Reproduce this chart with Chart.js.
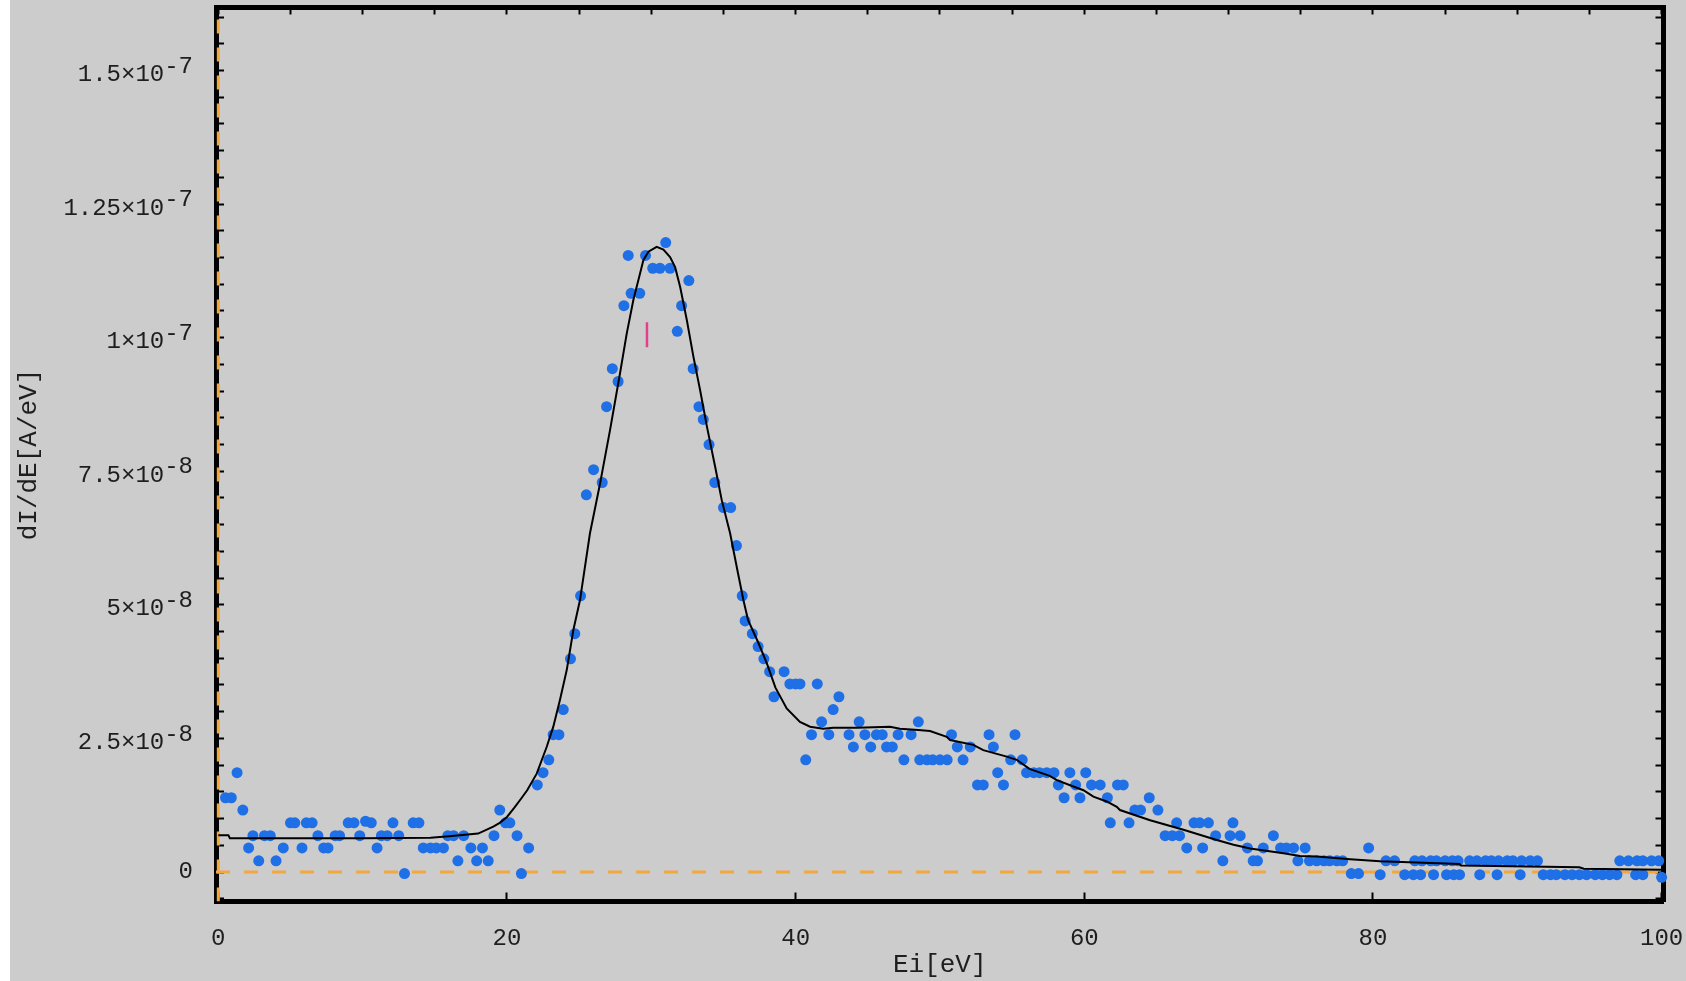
<!DOCTYPE html>
<html>
<head>
<meta charset="utf-8">
<title>dI/dE vs Ei</title>
<script src="https://cdn.jsdelivr.net/npm/chart.js@4.4.1/dist/chart.umd.min.js"></script>
<style>
    html, body { margin: 0; padding: 0; background: #cccccc; }
    #wrap { width: 1686px; height: 981px; }
</style>
</head>
<body>
<div id="wrap"><canvas id="spectrumChart" width="1686" height="981"></canvas></div>
<script>
// measured points: [Ei (eV), dI/dE (1e-8 A/eV)]
const measured = [
    [0.5,1.39],[0.9,1.39],[1.3,1.86],[1.7,1.16],[2.1,0.45],[2.4,0.68],[2.8,0.21],[3.2,0.68],[3.6,0.68],[4.0,0.21],
    [4.5,0.45],[5.0,0.92],[5.3,0.92],[5.8,0.45],[6.1,0.92],[6.5,0.92],[6.9,0.68],[7.3,0.45],[7.6,0.45],[8.1,0.68],
    [8.4,0.68],[9.0,0.92],[9.4,0.92],[9.8,0.68],[10.2,0.95],[10.6,0.92],[11.0,0.45],[11.3,0.68],[11.7,0.68],[12.1,0.92],
    [12.5,0.68],[12.9,-0.03],[13.5,0.92],[13.9,0.92],[14.2,0.45],[14.7,0.45],[15.1,0.45],[15.6,0.45],[15.9,0.68],[16.3,0.68],
    [16.6,0.21],[17.0,0.68],[17.5,0.45],[17.9,0.21],[18.3,0.45],[18.7,0.21],[19.1,0.68],[19.5,1.16],[19.9,0.92],[20.2,0.92],
    [20.7,0.68],[21.0,-0.03],[21.5,0.45],
    [22.1,1.63],[22.5,1.86],[22.9,2.10],[23.2,2.57],[23.6,2.57],[23.9,3.04],[24.4,3.99],[24.7,4.46],[25.1,5.17],[25.5,7.06],
    [26.0,7.53],[26.6,7.29],[26.9,8.71],[27.3,9.42],[27.7,9.18],[28.1,10.60],[28.4,11.54],[28.6,10.83],[29.2,10.83],[29.6,11.54],
    [30.1,11.30],[30.6,11.30],[31.0,11.78],[31.3,11.30],[31.8,10.12],[32.1,10.60],[32.6,11.07],[32.9,9.42],[33.3,8.71],[33.6,8.47],
    [34.0,8.00],[34.4,7.29],[35.0,6.82],[35.5,6.82],[35.9,6.11],[36.3,5.17],
    [36.5,4.70],[37.0,4.46],[37.4,4.22],[37.8,3.99],[38.2,3.75],[38.5,3.28],[39.2,3.75],[39.6,3.52],[40.0,3.52],[40.3,3.52],
    [40.7,2.10],[41.1,2.57],[41.5,3.52],[41.8,2.81],[42.3,2.57],[42.6,3.04],[43.0,3.28],[43.7,2.57],[44.0,2.34],[44.4,2.81],
    [44.8,2.57],[45.2,2.34],[45.6,2.57],[46.0,2.57],[46.3,2.34],[46.7,2.34],[47.1,2.57],[47.5,2.10],[48.0,2.57],[48.5,2.81],
    [48.6,2.10],[49.1,2.10],[49.5,2.10],[50.0,2.10],[50.5,2.10],[50.8,2.57],[51.2,2.34],[51.6,2.10],[52.1,2.34],[52.6,1.63],
    [53.0,1.63],[53.4,2.57],[53.7,2.34],[54.0,1.86],[54.4,1.63],[54.9,2.10],[55.2,2.57],[55.7,2.10],[56.0,1.86],[56.5,1.86],
    [56.9,1.86],[57.4,1.86],[57.9,1.86],[58.2,1.63],[58.6,1.39],[59.0,1.86],[59.4,1.63],[59.7,1.39],[60.1,1.86],[60.5,1.63],
    [61.1,1.63],[61.6,1.39],[61.8,0.92],[62.3,1.63],[62.7,1.63],[63.1,0.92],
    [63.5,1.16],[63.9,1.16],[64.5,1.39],[65.1,1.16],[65.6,0.68],[66.1,0.68],[66.4,0.92],[66.6,0.68],[67.1,0.45],[67.6,0.92],
    [68.0,0.92],[68.2,0.45],[68.6,0.92],[69.1,0.68],[69.6,0.21],[70.1,0.68],[70.3,0.92],[70.8,0.68],[71.3,0.45],[71.7,0.21],
    [72.0,0.21],[72.4,0.45],[73.1,0.68],[73.6,0.45],[74.0,0.45],[74.5,0.45],[74.8,0.21],[75.3,0.45],[75.6,0.21],[76.1,0.21],
    [76.6,0.21],[77.0,0.21],[77.5,0.21],[77.9,0.21],[78.5,-0.03],[79.0,-0.03],[79.7,0.45],
    [80.5,-0.05],[80.9,0.21],[81.5,0.21],[82.2,-0.05],[82.8,-0.05],[82.9,0.21],[83.3,-0.05],[83.4,0.21],[84.0,0.21],[84.2,-0.05],
    [84.4,0.21],[85.0,0.21],[85.1,-0.05],[85.5,0.21],[85.6,-0.05],[85.9,0.21],[86.0,-0.05],[86.7,0.21],[87.2,0.21],[87.4,-0.05],
    [87.8,0.21],[88.2,0.21],[88.6,-0.05],[88.7,0.21],[89.3,0.21],[89.7,0.21],[90.2,-0.05],[90.3,0.21],[90.9,0.21],[91.4,0.21],
    [91.8,-0.05],[92.3,-0.05],[92.7,-0.05],[93.3,-0.05],[93.8,-0.05],[94.3,-0.05],[94.8,-0.05],[95.4,-0.05],[95.9,-0.05],[96.4,-0.05],
    [96.9,-0.05],[97.1,0.21],[97.7,0.21],[98.2,-0.05],[98.3,0.21],[98.7,-0.05],[98.7,0.21],[99.3,0.21],[99.8,0.21],[100.0,-0.1]
];

// fitted curve
const fitCurve = [
    [0,0.69],[0.7,0.69],[0.8,0.63],[5,0.63],[10,0.63],[14.7,0.64],[16,0.67],[18,0.72],[19.05,0.85],[19.5,0.92],
    [20.0,1.03],[20.5,1.2],[21.0,1.38],[21.4,1.53],[22.06,1.84],[22.75,2.34],[23.21,2.72],[23.67,3.22],[24.14,3.78],[24.6,4.53],
    [25.06,5.09],[25.75,6.34],[26.45,7.27],[27.14,8.27],[27.83,9.33],[28.3,10.08],[28.76,10.71],[29.22,11.2],[29.45,11.45],[29.8,11.61],
    [30.37,11.7],[30.84,11.65],[31.3,11.51],[31.65,11.32],[32.0,10.95],[32.46,10.33],[32.92,9.64],[33.38,9.02],[33.85,8.34],[34.42,7.59],
    [34.88,6.96],[35.46,6.34],[36.0,5.6],[36.38,5.09],[36.7,4.72],[37.4,4.3],[38.0,3.91],[38.6,3.45],[39.38,3.06],[40.3,2.81],
    [41.0,2.72],[41.92,2.68],[42.61,2.70],[44.23,2.70],[46.54,2.72],[47.23,2.68],[48.5,2.66],[49.31,2.64],[50.47,2.53],[50.7,2.47],
    [52.31,2.38],[53.0,2.28],[54.63,2.16],[55.32,2.10],[56.2,1.93],[57.6,1.80],[58.1,1.72],[59.24,1.60],[59.94,1.53],[60.63,1.41],
    [61.55,1.32],[62.25,1.22],[62.47,1.16],[64.56,0.97],[66.87,0.79],[69.18,0.60],[70.34,0.51],[71.49,0.44],[73.8,0.35],[74.95,0.30],
    [76.11,0.29],[78.42,0.24],[80.5,0.20],[86.0,0.15],[86.1,0.12],[94.3,0.09],[94.6,0.06],[100,0.04]
];

// small pink marker near the peak
const markerLine = [[29.7,9.82],[29.7,10.29]];

// axis ranges (y in units of 1e-8 A/eV)
const xRange = [-0.16, 100.13];
const yRange = [-0.552, 16.18];

// tick positions and labels
const xTickValues = [0, 20, 40, 60, 80, 100];
const xMinorStep = 5;
const yMinorStep = 0.5;
const yTickValues = [0, 2.5, 5, 7.5, 10, 12.5, 15];
const yTickMantissa = ['0', '2.5', '5', '7.5', '1', '1.25', '1.5'];
const yTickExponent = ['', '-8', '-8', '-8', '-7', '-7', '-7'];

const MONO = "'Liberation Mono', 'DejaVu Sans Mono', monospace";
const TEXT_COLOR = '#1e1e1e';

const pageBackground = {
    id: 'pageBackground',
    beforeDraw(chart) {
        const c = chart.ctx;
        c.save();
        c.fillStyle = '#cccccc';
        c.fillRect(0, 0, chart.width, chart.height);
        c.fillStyle = '#ffffff';
        c.fillRect(0, 0, 10, chart.height);
        c.restore();
    }
};

function toPoints(list) {
    return list.map(p => ({ x: p[0], y: p[1] }));
}

// evenly spaced tick marks inside a range (axis decoration only)
function minorTicks(range, step) {
    const out = [];
    for (let v = Math.ceil(range[0] / step) * step; v <= range[1] + 1e-9; v += step) {
        out.push({ value: Math.round(v * 1000) / 1000 });
    }
    return out;
}

function yTickLabel(value) {
    const i = yTickValues.findIndex(v => Math.abs(v - value) < 1e-6);
    if (i < 0) return '';
    if (!yTickExponent[i]) return yTickMantissa[i];
    return [yTickExponent[i], yTickMantissa[i] + '\u00D710\u00A0\u00A0'];
}

function frameAxis(position, size, tickList, tickLength) {
    const horizontal = position === 'top' || position === 'bottom';
    return {
        type: 'linear',
        position: position,
        min: horizontal ? xRange[0] : yRange[0],
        max: horizontal ? xRange[1] : yRange[1],
        afterBuildTicks: function(scale) {
            scale.ticks = tickList.map(t => ({ value: t.value }));
        },
        afterFit: function(scale) {
            if (horizontal) scale.height = size; else scale.width = size;
            scale.paddingTop = 0;
            scale.paddingBottom = 0;
            scale.paddingLeft = 0;
            scale.paddingRight = 0;
        },
        border: { display: true, color: '#000000', width: 5 },
        grid: {
            drawOnChartArea: false,
            drawTicks: true,
            tickLength: tickLength,
            tickWidth: 2,
            tickColor: '#000000'
        },
        ticks: { display: false, autoSkip: false }
    };
}

const xAxis = frameAxis('bottom', 79.5, xTickValues.map(v => ({ value: v })), -9);
xAxis.ticks = {
    display: true,
    autoSkip: false,
    maxRotation: 0,
    minRotation: 0,
    padding: 32,
    color: TEXT_COLOR,
    font: { family: MONO, size: 24 },
    callback: v => String(v)
};
xAxis.title = {
    display: true,
    text: 'Ei[eV]',
    color: TEXT_COLOR,
    font: { family: MONO, size: 26 },
    padding: { top: 0, bottom: 0 }
};

const yAxis = frameAxis('left', 216, minorTicks(yRange, yMinorStep), -8);
yAxis.ticks = {
    display: true,
    autoSkip: false,
    padding: 31,
    color: TEXT_COLOR,
    font: { family: MONO, size: 24, lineHeight: '8.5px' },
    callback: yTickLabel
};
yAxis.title = {
    display: true,
    text: 'dI/dE[A/eV]',
    color: TEXT_COLOR,
    font: { family: MONO, size: 26 },
    padding: { top: 14, bottom: 0 }
};

const ctx = document.getElementById('spectrumChart');

new Chart(ctx, {
    type: 'scatter',
    data: {
        datasets: [
            {
                label: 'marker',
                data: toPoints(markerLine),
                showLine: true,
                borderColor: '#e2408a',
                borderWidth: 2.5,
                pointRadius: 0
            },
            {
                label: 'fit',
                data: toPoints(fitCurve),
                showLine: true,
                borderColor: '#000000',
                borderWidth: 2,
                pointRadius: 0,
                tension: 0
            },
            {
                label: 'dI/dE',
                data: toPoints(measured),
                pointRadius: 5.5,
                pointStyle: 'circle',
                backgroundColor: '#1f6fe6',
                borderWidth: 0,
                clip: false
            },
            {
                label: 'zero-y',
                data: [{ x: xRange[0], y: 0 }, { x: xRange[1], y: 0 }],
                showLine: true,
                borderColor: '#f2a83c',
                borderWidth: 3,
                borderDash: [14, 14],
                pointRadius: 0
            },
            {
                label: 'zero-x',
                data: [{ x: 0, y: yRange[0] }, { x: 0, y: yRange[1] }],
                showLine: true,
                borderColor: '#f2a83c',
                borderWidth: 3,
                borderDash: [14, 14],
                pointRadius: 0
            }
        ]
    },
    options: {
        responsive: false,
        animation: false,
        layout: { padding: 0 },
        plugins: {
            legend: { display: false },
            tooltip: { enabled: false }
        },
        scales: {
            x: xAxis,
            x2: frameAxis('top', 7.5, minorTicks(xRange, xMinorStep), -7),
            y: yAxis,
            y2: frameAxis('right', 22.5, minorTicks(yRange, yMinorStep), -8)
        }
    },
    plugins: [pageBackground]
});
</script>
</body>
</html>
